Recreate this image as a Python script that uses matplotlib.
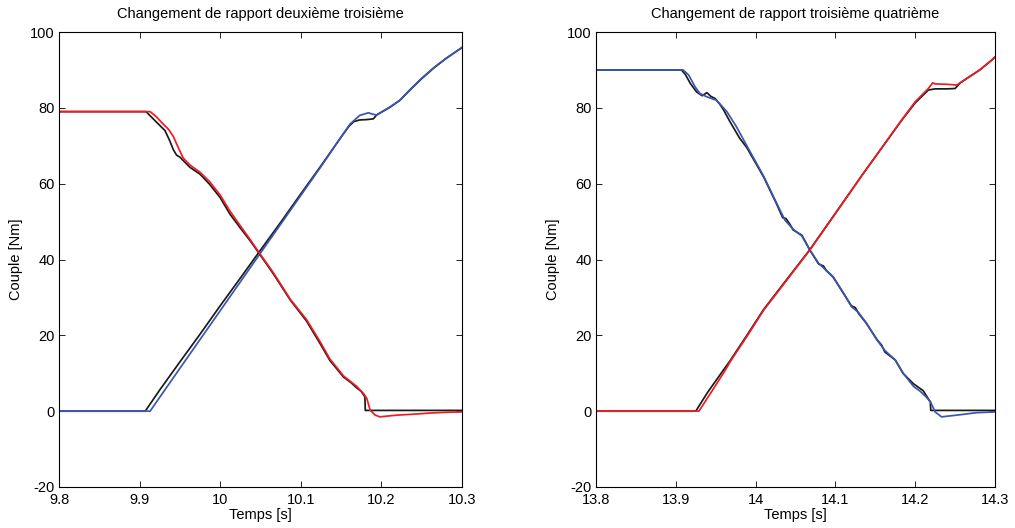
import matplotlib
matplotlib.use("Agg")
import matplotlib.pyplot as plt

plt.rcParams['font.family'] = ['Liberation Sans', 'DejaVu Sans']
plt.rcParams['axes.unicode_minus'] = False

# ---------------- Left chart: deuxième -> troisième ----------------
tL_black_fall = [9.800, 9.908, 9.915, 9.922, 9.9315, 9.937, 9.942, 9.946, 9.950, 9.9625, 9.975, 9.987,
                 10.000, 10.012, 10.0246, 10.037, 10.047, 10.066, 10.087, 10.107, 10.124, 10.136, 10.153,
                 10.163, 10.169, 10.175, 10.1795, 10.1800, 10.300]
yL_black_fall = [79.0, 79.0, 77.5, 76.0, 74.0, 71.5, 68.9, 67.5, 67.0, 64.3, 62.5, 59.8,
                 56.3, 52.0, 48.4, 45.0, 42.0, 36.2, 29.3, 23.8, 17.8, 13.4, 9.0,
                 7.4, 6.2, 5.2, 3.8, 0.2, 0.2]

tL_red_fall = [9.800, 9.913, 9.920, 9.928, 9.936, 9.942, 9.948, 9.954, 9.962, 9.975, 9.987, 10.000,
               10.012, 10.0246, 10.037, 10.047, 10.066, 10.087, 10.107, 10.124, 10.136, 10.153, 10.169,
               10.178, 10.182, 10.186, 10.192, 10.198, 10.219, 10.240, 10.260, 10.280, 10.300]
yL_red_fall = [79.0, 79.0, 77.8, 76.0, 74.3, 72.4, 69.5, 66.8, 65.0, 63.0, 60.5, 57.0,
               52.8, 49.0, 45.3, 42.2, 36.5, 29.5, 24.2, 18.3, 13.8, 9.3, 6.6,
               4.6, 3.3, 0.3, -1.0, -1.5, -1.05, -0.8, -0.5, -0.3, -0.2]

tL_blue_rise = [9.800, 9.913, 9.930, 9.950, 9.975, 10.000, 10.025, 10.047, 10.075, 10.100, 10.125,
                10.149, 10.161, 10.173, 10.184, 10.188, 10.194, 10.211, 10.223, 10.235, 10.250, 10.265,
                10.280, 10.300]
yL_blue_rise = [0.0, 0.0, 5.2, 11.3, 18.9, 26.5, 34.1, 40.8, 49.3, 56.9, 64.5,
                72.0, 75.7, 78.0, 78.7, 78.4, 78.1, 80.3, 82.0, 84.7, 87.8, 90.6,
                93.0, 95.9]

tL_black_rise = [9.800, 9.907, 9.925, 9.950, 9.975, 10.000, 10.025, 10.047, 10.075, 10.100, 10.125,
                 10.150, 10.160, 10.166, 10.173, 10.182, 10.190, 10.194, 10.211, 10.223, 10.235, 10.250,
                 10.265, 10.280, 10.300]
yL_black_rise = [0.0, 0.0, 5.6, 13.0, 20.3, 27.8, 35.1, 41.6, 49.8, 57.3, 64.7,
                 72.3, 75.2, 76.4, 76.8, 76.9, 77.1, 78.1, 80.2, 82.0, 84.6, 87.7,
                 90.5, 93.0, 95.9]

# ---------------- Right chart: troisième -> quatrième ----------------
tR_black_fall = [13.800, 13.907, 13.912, 13.918, 13.926, 13.933, 13.939, 13.944, 13.949, 13.955, 13.960,
                 13.968, 13.980, 13.989, 14.010, 14.026, 14.034, 14.038, 14.043, 14.047, 14.058, 14.068,
                 14.079, 14.085, 14.089, 14.097, 14.110, 14.120, 14.125, 14.129, 14.139, 14.152, 14.158,
                 14.162, 14.175, 14.185, 14.198, 14.202, 14.210, 14.219, 14.2195, 14.300]
yR_black_fall = [90.0, 90.0, 88.8, 86.5, 84.2, 83.2, 84.0, 83.0, 82.5, 81.0, 79.4,
                 76.3, 72.0, 69.5, 61.8, 54.8, 51.0, 50.8, 49.3, 47.8, 46.4, 42.5,
                 38.8, 38.3, 37.0, 35.4, 31.1, 27.8, 27.3, 25.8, 23.1, 18.9, 17.4,
                 15.6, 13.5, 9.9, 7.2, 6.6, 5.4, 2.4, 0.2, 0.2]

tR_blue_fall = [13.800, 13.909, 13.916, 13.924, 13.930, 13.939, 13.951, 13.964, 13.976, 13.989, 14.010,
                14.026, 14.037, 14.047, 14.058, 14.068, 14.079, 14.089, 14.097, 14.110, 14.120, 14.129,
                14.139, 14.152, 14.162, 14.175, 14.185, 14.198, 14.206, 14.214, 14.219, 14.225, 14.233,
                14.252, 14.277, 14.300]
yR_blue_fall = [90.0, 90.0, 88.7, 85.6, 83.8, 82.9, 82.0, 79.0, 75.0, 70.0, 62.0,
                55.0, 50.3, 48.0, 46.2, 42.5, 39.0, 37.0, 35.5, 31.2, 27.6, 26.0,
                23.2, 18.8, 16.0, 13.5, 10.0, 6.5, 5.3, 3.7, 2.5, -0.2, -1.5,
                -1.05, -0.4, -0.2]

tR_red_rise = [13.800, 13.929, 13.945, 13.962, 13.968, 13.990, 14.010, 14.040, 14.068, 14.100, 14.135,
               14.160, 14.183, 14.200, 14.2165, 14.222, 14.225, 14.240, 14.252, 14.265, 14.281, 14.296,
               14.300]
yR_red_rise = [0.0, 0.0, 5.2, 10.8, 13.0, 20.0, 26.6, 34.8, 42.5, 52.1, 62.7,
               70.0, 76.8, 81.6, 85.1, 86.6, 86.3, 86.2, 86.0, 87.8, 90.0, 92.6,
               93.4]

tR_black_rise = [13.800, 13.925, 13.940, 13.9595, 13.968, 13.990, 14.010, 14.040, 14.068, 14.100, 14.135,
                 14.160, 14.183, 14.200, 14.2165, 14.225, 14.240, 14.250, 14.256, 14.265, 14.281, 14.296,
                 14.300]
yR_black_rise = [0.0, 0.0, 5.0, 10.8, 13.3, 20.3, 26.8, 35.0, 42.6, 52.2, 62.7,
                 70.0, 76.7, 81.3, 84.7, 85.0, 85.0, 85.1, 86.5, 87.8, 90.0, 92.6,
                 93.4]

xticks_L = [9.8, 9.9, 10.0, 10.1, 10.2, 10.3]
xlabels_L = ['9.8', '9.9', '10', '10.1', '10.2', '10.3']
xticks_R = [13.8, 13.9, 14.0, 14.1, 14.2, 14.3]
xlabels_R = ['13.8', '13.9', '14', '14.1', '14.2', '14.3']
yticks = [-20, 0, 20, 40, 60, 80, 100]

titles = ['Changement de rapport deuxième troisième', 'Changement de rapport troisième quatrième']

BLACK = '#1a1a1a'
RED = '#ee1c24'
BLUE = '#3a56b0'
LW = 1.25
FS = 10.5

fig = plt.figure(figsize=(10.15, 5.28), dpi=100)
axL = fig.add_axes([59/1015, 41/528, 403/1015, 455/528])
axR = fig.add_axes([596/1015, 41/528, 399/1015, 455/528])

axL.plot(tL_black_rise, yL_black_rise, color=BLACK, lw=LW)
axL.plot(tL_blue_rise, yL_blue_rise, color=BLUE, lw=LW)
axL.plot(tL_black_fall, yL_black_fall, color=BLACK, lw=LW)
axL.plot(tL_red_fall, yL_red_fall, color=RED, lw=LW)

axR.plot(tR_black_fall, yR_black_fall, color=BLACK, lw=LW)
axR.plot(tR_blue_fall, yR_blue_fall, color=BLUE, lw=LW)
axR.plot(tR_black_rise, yR_black_rise, color=BLACK, lw=LW)
axR.plot(tR_red_rise, yR_red_rise, color=RED, lw=LW)

for ax, xt, xl, title in [(axL, xticks_L, xlabels_L, titles[0]), (axR, xticks_R, xlabels_R, titles[1])]:
    ax.set_xlim(xt[0], xt[-1])
    ax.set_ylim(-20, 100)
    ax.set_xticks(xt)
    ax.set_xticklabels(xl)
    ax.set_yticks(yticks)
    ax.tick_params(direction='in', top=True, right=True, length=4, width=0.6,
                   labelsize=FS)
    ax.tick_params(axis='x', pad=4)
    ax.tick_params(axis='y', pad=3)
    for s in ax.spines.values():
        s.set_linewidth(0.8)
    ax.set_title(title, fontsize=FS, pad=10)
    ax.set_xlabel('Temps [s]', fontsize=FS, labelpad=1)
    ax.set_ylabel('Couple [Nm]', fontsize=FS, labelpad=5)

fig.savefig('out.png', dpi=100)
